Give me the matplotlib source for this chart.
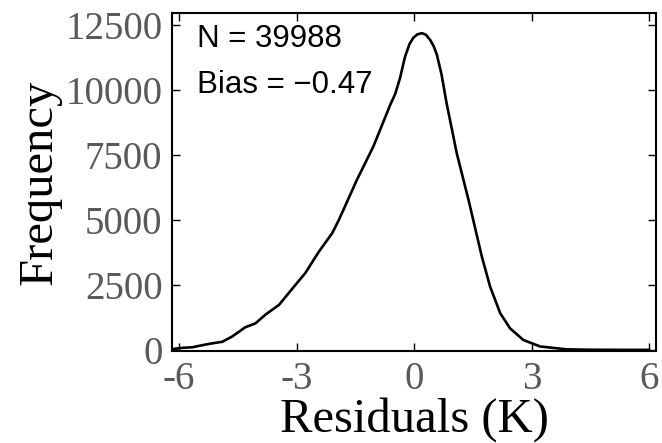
import numpy as np
import matplotlib
matplotlib.use('Agg')
import matplotlib.pyplot as plt

# residual distribution
residuos = [-6.18, -5.9, -5.67, -5.24, -4.9, -4.65, -4.31, -4.05, -3.8, -3.45,
            -3.03, -2.78, -2.43, -2.09, -1.92, -1.46, -1.04, -0.61, -0.48, -0.36,
            -0.23, -0.12, -0.02, 0.08, 0.20, 0.30, 0.41, 0.50, 0.58, 0.70,
            0.83, 1.09, 1.39, 1.51, 1.73, 1.94, 2.20, 2.45, 2.79, 3.22,
            3.90, 4.49, 5.3, 6.0]
frequencia = [30, 80, 100, 230, 310, 510, 870, 1020, 1350, 1730,
              2500, 2950, 3780, 4490, 5000, 6540, 7820, 9420, 9850, 10450,
              11280, 11750, 12000, 12130, 12180, 12120, 11920, 11680, 11360, 10600,
              9490, 7560, 5770, 5000, 3590, 2440, 1410, 830, 380, 130,
              20, 5, 0, 0]

xticks = [-6, -3, 0, 3, 6]
yticks = [0, 2500, 5000, 7500, 10000, 12500]
n_obs = 39988
bias = -0.47

plt.rcParams['axes.unicode_minus'] = False

fig = plt.figure(figsize=(6.62, 4.43), dpi=100)
ax = fig.add_axes([0.26, 0.208, 0.731, 0.763])

ax.plot(residuos, frequencia, color='black', linewidth=1.9)

ax.set_xlim(-6.18, 6.18)
ax.set_ylim(-38, 12960)
ax.set_xticks(xticks)
ax.set_yticks(yticks)
ax.set_xticklabels([str(t) for t in xticks])
ax.set_yticklabels([str(t) for t in yticks])

ax.tick_params(direction='in', length=6, width=1, top=True, right=True,
               labelsize=28, labelcolor='#595959', pad=7)
for lab in ax.get_xticklabels() + ax.get_yticklabels():
    lab.set_family('Liberation Serif')
for s in ax.spines.values():
    s.set_linewidth(1.5)

ax.set_xlabel('Residuals (K)', family='Liberation Serif', fontsize=35, labelpad=0)
ax.set_ylabel('Frequency', family='Liberation Serif', fontsize=35, labelpad=3)

ax.text(0.052, 0.90, 'N = ' + str(n_obs), transform=ax.transAxes,
        family='Liberation Sans', fontsize=22.5, va='baseline')
ax.text(0.052, 0.763, 'Bias = \u2212' + str(abs(bias)), transform=ax.transAxes,
        family='Liberation Sans', fontsize=22.5, va='baseline')

fig.savefig('out.png', dpi=100)
